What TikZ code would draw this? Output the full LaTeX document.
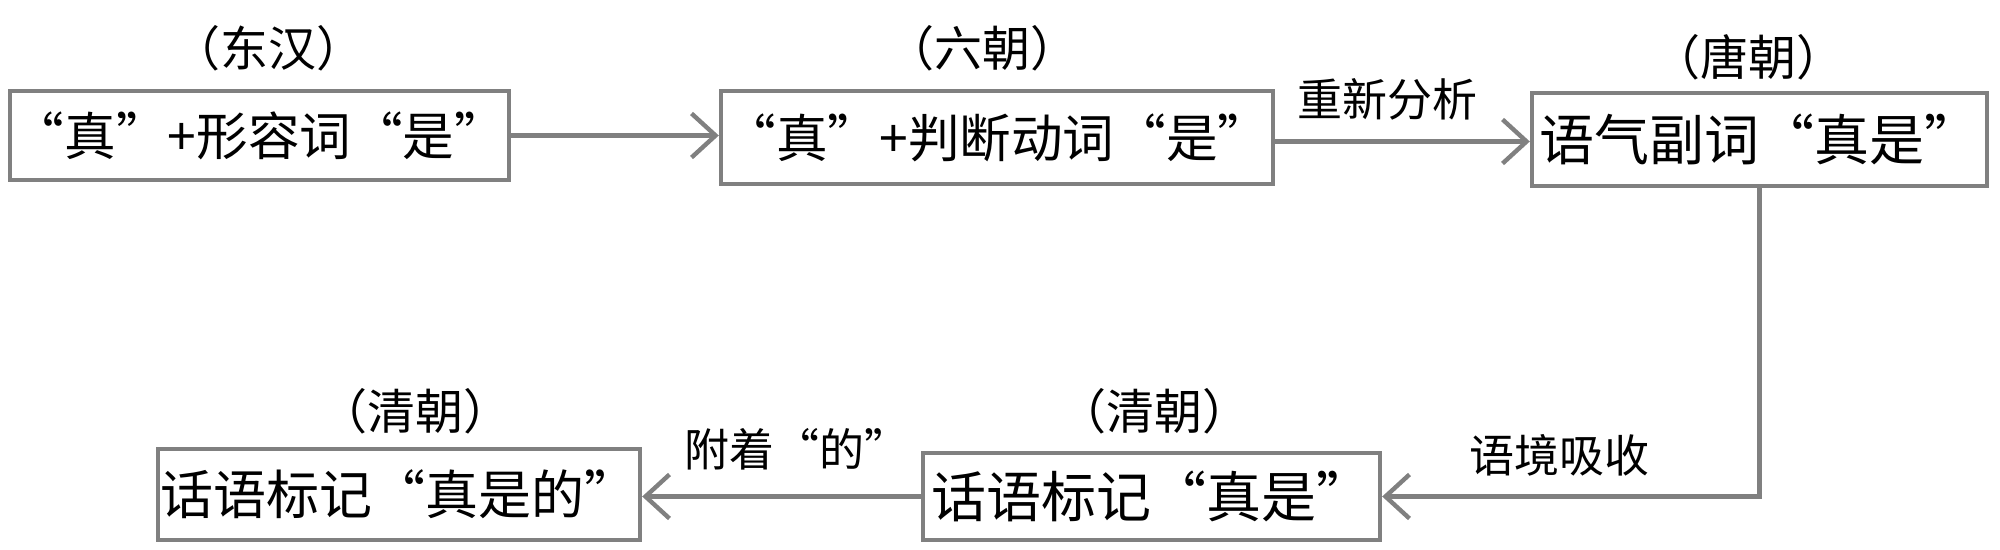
\documentclass[tikz,border=0pt]{standalone}
\usepackage{fontspec}
\setmainfont{Noto Sans CJK SC}
\usetikzlibrary{arrows.meta}
\definecolor{lg}{RGB}{128,128,128}
\begin{document}
\begin{tikzpicture}[x=0.5pt,y=-0.5pt,
 box/.style={draw=lg, line width=2.2pt, inner sep=0pt, font=\fontsize{27.5}{32}\selectfont},
 era/.style={font=\fontsize{24}{28}\selectfont, inner sep=0pt},
 lab/.style={font=\fontsize{22.5}{27}\selectfont, inner sep=0pt},
 conn/.style={draw=lg, line width=2.2pt, -{Straight Barb[length=12pt,width=22pt,line width=2.2pt]}}]
\useasboundingbox (0,0) rectangle (2000,550);
\node[box, minimum width=249.5pt, minimum height=44.5pt, font=\fontsize{25.8}{31}\selectfont] (b1) at (259.5,135.5) {“真”+形容词“是”};
\node[box, minimum width=276pt, minimum height=46.5pt, font=\fontsize{25.8}{31}\selectfont] (b2) at (997,137.5) {“真”+判断动词“是”};
\node[box, minimum width=227.5pt, minimum height=46.5pt] (b3) at (1759.5,139.5) {语气副词“真是”};
\node[box, minimum width=228.5pt, minimum height=43.5pt] (b4) at (1151.5,496.5) {话语标记“真是”};
\node[box, minimum width=241pt, minimum height=45.5pt, font=\fontsize{26.5}{31}\selectfont] (b5) at (399,494.5) {话语标记“真是的”};
\node[era] (e1) at (268,48) {（东汉）};
\node[era] (e2) at (982,48) {（六朝）};
\node[era] (e3) at (1748,57) {（唐朝）};
\node[era] (e4) at (1154,411) {（清朝）};
\node[era] (e5) at (415,411) {（清朝）};
\node[lab] (l1) at (1387,99) {重新分析};
\node[lab] (l2) at (1559,455) {语境吸收};
\node[lab] (l3) at (797,449) {附着“的”};
\draw[conn] (b1.east) -- (b1.east -| b2.west);
\draw[conn] ([yshift=-2pt]b2.east) -- ([yshift=-2pt]b2.east -| b3.west);
\draw[conn] (b3.south) |- (b4.east);
\draw[conn] (b4.west) -- (b4.west -| b5.east);
\end{tikzpicture}
\end{document}
